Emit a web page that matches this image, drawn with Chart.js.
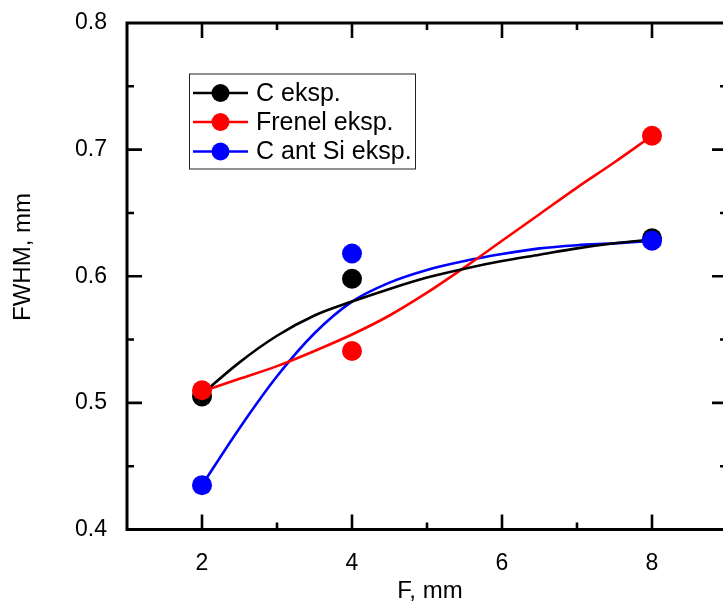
<!DOCTYPE html>
<html>
<head>
<meta charset="utf-8">
<script src="https://cdn.jsdelivr.net/npm/chart.js@4.4.1/dist/chart.umd.min.js"></script>
<style>
  html, body { margin: 0; padding: 0; background: #fff; overflow: hidden; width: 723px; height: 605px; }
  #wrap { position: absolute; left: 0; top: 0; width: 745px; height: 605px; }
</style>
</head>
<body>
<div id="wrap"><canvas id="c" width="745" height="605"></canvas></div>
<script>
// Measured FWHM against focal distance F
const focalLengths = [2, 4, 8];
const fwhmC = [0.505, 0.598, 0.630];
const fwhmFrenel = [0.510, 0.541, 0.711];
const fwhmCSi = [0.435, 0.618, 0.628];

// Fitted trend curves for each series
const fitX = [2, 2.5, 3, 3.5, 4, 4.5, 5, 5.5, 6, 6.5, 7, 7.5, 8];
const fitC = [0.507, 0.532, 0.553, 0.569, 0.580, 0.590, 0.599, 0.606, 0.612, 0.617, 0.622, 0.626, 0.629];
const fitFrenel = [0.509, 0.519, 0.529, 0.541, 0.554, 0.569, 0.587, 0.607, 0.628, 0.649, 0.670, 0.690, 0.711];
const fitCSi = [0.435, 0.480, 0.521, 0.555, 0.580, 0.595, 0.605, 0.612, 0.6175, 0.622, 0.6245, 0.626, 0.628];

// Axis ticks
const xMajorTicks = [2, 4, 6, 8];
const xMinorTicks = [3, 5, 7];
const yMajorTicks = [0.4, 0.5, 0.6, 0.7, 0.8];
const yMinorTicks = [0.45, 0.55, 0.65, 0.75];

const seriesLabels = ['C eksp.', 'Frenel eksp.', 'C ant Si eksp.'];
const xTitle = 'F, mm';
const yTitle = 'FWHM, mm';

// Styling
const palette = ['#000000', '#ff0000', '#0000ff'];
const FONT = "'Liberation Sans', Arial, sans-serif";
const LINE_W = 2.6;
const POINT_R = 10;

const toXY = (xs, ys) => xs.map((x, i) => ({ x: x, y: ys[i] }));

const pointSets = [fwhmC, fwhmFrenel, fwhmCSi];
const fitSets = [fitC, fitFrenel, fitCSi];

const datasets = [];
fitSets.forEach((ys, i) => {
  datasets.push({
    label: seriesLabels[i] + ' fit',
    data: toXY(fitX, ys),
    showLine: true,
    borderColor: palette[i],
    borderWidth: LINE_W,
    pointRadius: 0,
    cubicInterpolationMode: 'monotone',
    fill: false,
    order: 10 + i
  });
});
pointSets.forEach((ys, i) => {
  datasets.push({
    label: seriesLabels[i],
    data: toXY(focalLengths, ys),
    showLine: false,
    backgroundColor: palette[i],
    borderColor: palette[i],
    borderWidth: 0,
    pointRadius: POINT_R,
    pointHoverRadius: POINT_R,
    order: 3 - i
  });
});

// Frame with inward ticks on all four sides, axis titles and the legend box
const framePlugin = {
  id: 'frame',
  afterDraw(chart) {
    const ctx = chart.ctx;
    const a = chart.chartArea;
    const xs = chart.scales.x, ys = chart.scales.y;
    const MAJ = 15, MIN = 7;
    ctx.save();
    ctx.strokeStyle = '#000';
    ctx.lineWidth = 3;
    ctx.lineCap = 'butt';
    ctx.beginPath();
    ctx.rect(a.left, a.top, a.right - a.left, a.bottom - a.top);
    ctx.stroke();
    ctx.lineWidth = 2.6;
    ctx.beginPath();
    const xt = (vals, len) => vals.forEach(v => {
      const px = xs.getPixelForValue(v);
      ctx.moveTo(px, a.bottom); ctx.lineTo(px, a.bottom - len);
      ctx.moveTo(px, a.top); ctx.lineTo(px, a.top + len);
    });
    const yt = (vals, len) => vals.forEach(v => {
      const py = ys.getPixelForValue(v);
      ctx.moveTo(a.left, py); ctx.lineTo(a.left + len, py);
      ctx.moveTo(a.right, py); ctx.lineTo(a.right - len, py);
    });
    xt(xMajorTicks, MAJ); xt(xMinorTicks, MIN);
    yt(yMajorTicks.filter(v => v > 0.4 && v < 0.8), MAJ); yt(yMinorTicks, MIN);
    ctx.stroke();

    // axis titles
    ctx.fillStyle = '#000';
    ctx.font = '24px ' + FONT;
    ctx.textAlign = 'center';
    ctx.textBaseline = 'middle';
    ctx.fillText(xTitle, (a.left + a.right) / 2 + 3, 591);
    ctx.save();
    ctx.translate(23, 257);
    ctx.rotate(-Math.PI / 2);
    ctx.fillText(yTitle, 0, 0);
    ctx.restore();

    // legend
    const lx = 189.5, ly = 74, lw = 226, lh = 95;
    ctx.lineWidth = 1;
    ctx.strokeStyle = '#222';
    ctx.strokeRect(lx, ly, lw, lh);
    const rows = [93, 122, 151.5];
    ctx.textAlign = 'left';
    ctx.font = '25px ' + FONT;
    seriesLabels.forEach((lab, i) => {
      const y = rows[i];
      ctx.strokeStyle = palette[i];
      ctx.lineWidth = LINE_W;
      ctx.beginPath();
      ctx.moveTo(193, y); ctx.lineTo(248, y);
      ctx.stroke();
      ctx.fillStyle = palette[i];
      ctx.beginPath();
      ctx.arc(220.5, y, 9, 0, Math.PI * 2);
      ctx.fill();
      ctx.fillStyle = '#000';
      ctx.fillText(lab, 256, y + 1);
    });
    ctx.restore();
  }
};

const noScalePadding = s => { s.paddingTop = 0; s.paddingBottom = 0; s.paddingLeft = 0; s.paddingRight = 0; };

new Chart(document.getElementById('c'), {
  type: 'scatter',
  data: { datasets },
  options: {
    responsive: false,
    animation: false,
    devicePixelRatio: 1,
    events: [],
    layout: { padding: { top: 23, right: 18, left: 0, bottom: 0 } },
    plugins: { legend: { display: false }, tooltip: { enabled: false }, title: { display: false } },
    scales: {
      x: {
        type: 'linear', position: 'bottom', min: 1, max: 9,
        grid: { display: false, drawTicks: false }, border: { display: false },
        afterBuildTicks: s => { s.ticks = xMajorTicks.map(v => ({ value: v })); },
        afterFit: s => { s.height = 75.5; noScalePadding(s); },
        ticks: { color: '#000', font: { family: FONT, size: 23 }, padding: 20, callback: v => String(v), maxRotation: 0 }
      },
      y: {
        type: 'linear', position: 'left', min: 0.4, max: 0.8,
        grid: { display: false, drawTicks: false }, border: { display: false },
        afterBuildTicks: s => { s.ticks = yMajorTicks.map(v => ({ value: v })); },
        afterFit: s => { s.width = 127; noScalePadding(s); },
        ticks: { color: '#000', font: { family: FONT, size: 23 }, padding: 20, callback: v => Number(v).toFixed(1) }
      }
    }
  },
  plugins: [framePlugin]
});
</script>
</body>
</html>
